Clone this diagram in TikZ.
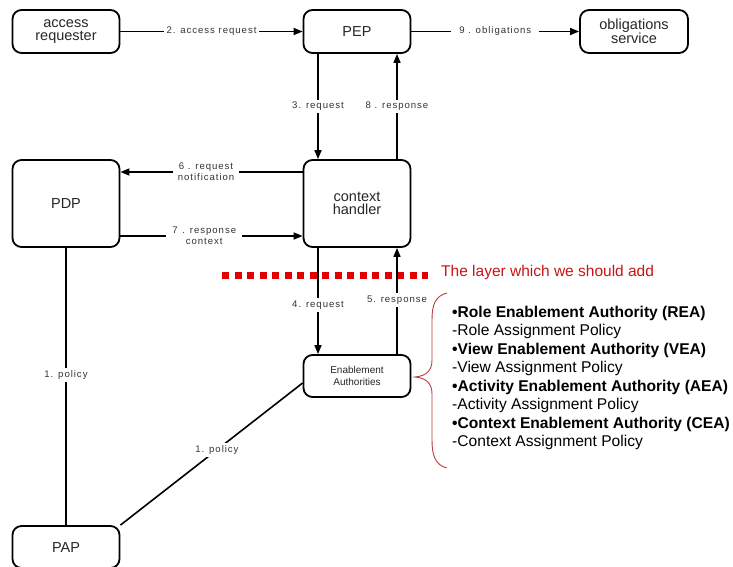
\documentclass[tikz,border=0pt]{standalone}
\usepackage{fontspec}
\setmainfont{Liberation Sans}
\newfontfamily\lblfont[LetterSpace=10]{Liberation Sans}
\usetikzlibrary{arrows.meta,calc}
\definecolor{layerred}{RGB}{225,0,0}
\definecolor{textred}{RGB}{200,20,20}
\definecolor{bracered}{RGB}{190,60,60}
\begin{document}
\begin{tikzpicture}[x=1pt,y=-1pt,
  box/.style={draw, line width=1.8pt, rounded corners=9pt, minimum width=107pt, align=center,
    font=\fontsize{14.5}{13.5}\selectfont, inner sep=0pt, text=black!85},
  lbl/.style={fill=white, inner sep=2.5pt, font=\lblfont\fontsize{9.6}{11}\selectfont, align=center, text=black!80},
  conn/.style={line width=1.6pt},
  arr/.style={conn, -{Triangle[length=9pt,width=7pt]}},
  listtext/.style={align=left, font=\fontsize{15.6}{18.5}\selectfont, inner sep=0pt, text=black},
]
\useasboundingbox (0,0) rectangle (733,566);

% boxes
\node[box, minimum height=43pt] (AR) at (66,31.5) {access\\requester};
\node[box, minimum height=43pt] (PEP) at (357,31.5) {PEP};
\node[box, minimum height=43pt, minimum width=108pt] (OS) at (634,31.5) {obligations\\service};
\node[box, minimum height=87pt] (PDP) at (66,203.5) {PDP};
\node[box, minimum height=87pt] (CH) at (357,203.5) {context\\handler};
\node[box, minimum height=42pt, font=\fontsize{10}{12}\selectfont] (EA) at (357,376) {Enablement\\Authorities};
\node[box, minimum height=42pt] (PAP) at (66,547) {PAP};

% layer line
\coordinate (LayA) at (222,275);
\coordinate (LayB) at (428,275);
\draw[layerred, line width=7pt, dash pattern=on 7pt off 5.5pt] (LayA) -- (LayB);
\node[anchor=west, inner sep=0pt, text=textred, font=\fontsize{15.5}{18}\selectfont] (LayT) at (441,272) {The layer which we should add};

% connectors
\draw[arr] (AR) -- node[lbl]{2. access request} (PEP);
\draw[arr] (PEP) -- node[lbl, inner xsep=8pt]{9 . obligations} (OS);
\draw[arr] ([xshift=-39pt]PEP.south) -- node[lbl]{3. request} ([xshift=-39pt]CH.north);
\draw[arr] ([xshift=40pt]CH.north) -- node[lbl]{8 . response} ([xshift=40pt]PEP.south);
\draw[arr] ([yshift=31.5pt]CH.west) -- node[lbl, pos=0.53, inner xsep=5pt]{6 . request\\notification} ([yshift=31.5pt]PDP.east);
\draw[arr] ([yshift=-32.5pt]PDP.east) -- node[lbl, pos=0.46, inner xsep=6pt]{7\enspace. response\\context} ([yshift=-32.5pt]CH.west);
\draw[arr] ([xshift=-39pt]CH.south) -- node[lbl, pos=0.54]{4. request} ([xshift=-39pt]EA.north);
\draw[arr] ([xshift=40pt]EA.north) -- node[lbl, pos=0.51]{5.\enspace response} ([xshift=40pt]CH.south);
\draw[conn] (PDP) -- node[lbl, pos=0.46]{1. policy} (PAP);
\draw[conn] ([yshift=-7pt]EA.west) -- node[lbl, pos=0.47]{1. policy} (PAP.north east);

% brace
\coordinate (BrTop) at (447,293);
\coordinate (BrTip) at (415,377);
\coordinate (BrBot) at (447,468);
\draw[bracered, line width=0.9pt] (BrTop) .. controls (435,296) and (432,305) .. (432,320) -- (432,360)
  .. controls (432,371) and (426,376) .. (BrTip)
  .. controls (426,378) and (432,383) .. (432,394) -- (432,440)
  .. controls (432,455) and (435,465) .. (BrBot);

% list
\node[listtext, anchor=west] (List) at (452,378) {%
\textbf{•Role Enablement Authority (REA)}\\
-Role Assignment Policy\\
\textbf{•View Enablement Authority (VEA)}\\
-View Assignment Policy\\
\textbf{•Activity Enablement Authority (AEA)}\\
-Activity Assignment Policy\\
\textbf{•Context Enablement Authority (CEA)}\\
-Context Assignment Policy};
\end{tikzpicture}
\end{document}
